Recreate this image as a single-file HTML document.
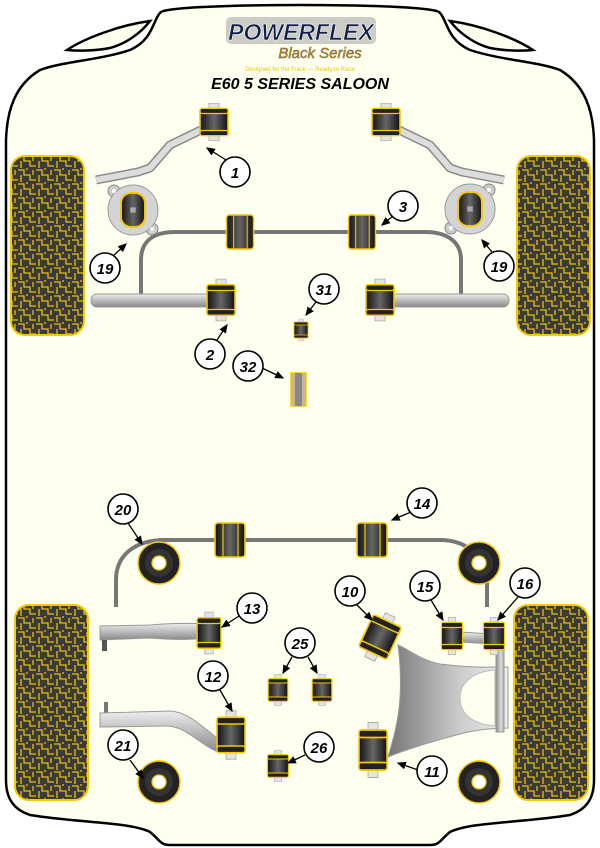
<!DOCTYPE html>
<html><head><meta charset="utf-8"><style>
html,body{margin:0;padding:0;background:#fff;}
svg{display:block;}
text{font-family:"Liberation Sans",sans-serif;}
</style></head><body>
<svg width="600" height="848" viewBox="0 0 600 848" xmlns="http://www.w3.org/2000/svg">
<defs>
<linearGradient id="dk" x1="0" x2="1" y1="0" y2="0"><stop offset="0" stop-color="#111"/><stop offset="0.5" stop-color="#666"/><stop offset="1" stop-color="#111"/></linearGradient>
<linearGradient id="gr" x1="0" x2="0" y1="0" y2="1"><stop offset="0" stop-color="#eee"/><stop offset="0.5" stop-color="#bbb"/><stop offset="1" stop-color="#888"/></linearGradient>
<linearGradient id="grh" x1="0" x2="1" y1="0" y2="0"><stop offset="0" stop-color="#888"/><stop offset="0.6" stop-color="#ddd"/><stop offset="1" stop-color="#aaa"/></linearGradient>
<linearGradient id="lg" x1="0" x2="1" y1="0" y2="0"><stop offset="0" stop-color="#777"/><stop offset="0.6" stop-color="#ccc"/><stop offset="1" stop-color="#eee"/></linearGradient>
<pattern id="tread" width="18" height="14" patternUnits="userSpaceOnUse">
<rect width="18" height="14" fill="#3a3a3a"/>
<path d="M0,2 h6 v5 h6 v5 h6 M9,0 v2 M3,7 v7 M15,2 v5" stroke="#e8c000" stroke-width="1.3" fill="none"/>
</pattern>
<marker id="ah" markerWidth="8" markerHeight="8" refX="6" refY="4" orient="auto"><path d="M0,1 L7,4 L0,7 Z" fill="#000"/></marker>
<g id="b">
<rect x="-5" y="-22" width="10" height="44" fill="#e4e4e4" stroke="#aaa" stroke-width="0.8"/>
<rect x="-14" y="-16" width="28" height="32" rx="3" fill="url(#dk)" stroke="#f5c800" stroke-width="1.6"/>
<rect x="-14" y="-16" width="28" height="6" rx="2" fill="#222" stroke="#f5c800" stroke-width="1.4"/>
<rect x="-14" y="10" width="28" height="6" rx="2" fill="#222" stroke="#f5c800" stroke-width="1.4"/>
</g>
<g id="arb">
<rect x="-15" y="-17" width="30" height="34" rx="3" fill="url(#dk)" stroke="#f5c800" stroke-width="1.6"/>
<line x1="-7" y1="-17" x2="-7" y2="17" stroke="#f5c800" stroke-width="1.2"/>
<line x1="8" y1="-17" x2="8" y2="17" stroke="#f5c800" stroke-width="1.2"/>
</g>
<g id="rnd">
<circle r="21" fill="#222" stroke="#f5c800" stroke-width="1.5"/>
<circle r="14" fill="#333"/>
<circle r="7" fill="#fff" stroke="#f5c800" stroke-width="1.3"/>
</g>
<g id="mount">
<circle cx="-19" cy="-19" r="6" fill="#ccc" stroke="#888"/>
<circle cx="19" cy="19" r="6" fill="#ccc" stroke="#888"/>
<circle r="25" fill="#d4d4d4" stroke="#999"/>
<circle cx="-19" cy="-19" r="2" fill="#fff"/>
<circle cx="19" cy="19" r="2" fill="#fff"/>
<rect x="-12" y="-17" width="24" height="34" rx="10" fill="url(#dk)" stroke="#f5c800" stroke-width="2"/>
<rect x="-3" y="-3" width="6" height="6" fill="#aaa" stroke="#555" stroke-width="0.6"/>
</g>
</defs>
<rect width="600" height="848" fill="#fff"/>
<!-- body -->
<path d="M300,5 C380,5 440,8 440,13 C447,20 447,40 470,50 C500,60 540,62 560,70 C585,85 593,110 594,140 L594,780 C594,800 585,810 570,815 C520,823 470,822 450,832 C440,840 440,845 430,845 L170,845 C160,845 160,840 150,832 C130,822 80,823 30,815 C15,810 6,800 6,780 L6,140 C7,110 15,85 40,70 C60,62 100,60 130,50 C153,40 153,20 160,13 C160,8 220,5 300,5 Z" fill="#fffff0" stroke="#000" stroke-width="2.5"/>
<path d="M67,50 C85,38 120,25 150,21 C140,34 125,44 110,48 C95,51 78,51 67,50 Z" fill="#fffff0" stroke="#000" stroke-width="2.5"/>
<path d="M533,50 C515,38 480,25 450,21 C460,34 475,44 490,48 C505,51 522,51 533,50 Z" fill="#fffff0" stroke="#000" stroke-width="2.5"/>
<!-- logo -->
<rect x="226" y="17" width="150" height="27" rx="5" fill="#999" opacity="0.5"/>
<text x="301" y="40" text-anchor="middle" font-size="23" font-weight="bold" font-style="italic" fill="#13204a" stroke="#fff" stroke-width="0.6">POWERFLEX</text>
<text x="320" y="58" text-anchor="middle" font-size="15" font-style="italic" fill="#d98a00" stroke="#555" stroke-width="0.4">Black Series</text>
<text x="300" y="71" text-anchor="middle" font-size="6" fill="#e8c800">Designed for the Track — Ready to Race</text>
<text x="300" y="89" text-anchor="middle" font-size="16" font-weight="bold" font-style="italic" fill="#000">E60 5 SERIES SALOON</text>
<!-- tires -->
<rect x="11" y="156" width="73" height="179" rx="14" fill="url(#tread)" stroke="#f5c800" stroke-width="2"/>
<rect x="517" y="156" width="73" height="179" rx="14" fill="url(#tread)" stroke="#f5c800" stroke-width="2"/>
<rect x="15" y="605" width="73" height="195" rx="14" fill="url(#tread)" stroke="#f5c800" stroke-width="2"/>
<rect x="514" y="605" width="74" height="195" rx="14" fill="url(#tread)" stroke="#f5c800" stroke-width="2"/>
<!-- front upper arms -->
<path d="M96,180 L138,172 L150,168 L170,145 L205,128" stroke="#888" stroke-width="9" fill="none" stroke-linejoin="round"/>
<path d="M96,180 L138,172 L150,168 L170,145 L205,128" stroke="#ddd" stroke-width="6" fill="none" stroke-linejoin="round"/>
<use href="#b" transform="translate(214,122) scale(1,0.85)"/>
<path d="M504,180 L462,172 L450,168 L430,145 L395,128" stroke="#888" stroke-width="9" fill="none" stroke-linejoin="round"/>
<path d="M504,180 L462,172 L450,168 L430,145 L395,128" stroke="#ddd" stroke-width="6" fill="none" stroke-linejoin="round"/>
<use href="#b" transform="translate(386,122) scale(1,0.85)"/>
<!-- strut mounts -->
<use href="#mount" transform="translate(133,210)"/>
<use href="#mount" transform="translate(470,209) scale(-1,1)"/>
<!-- front ARB -->
<path d="M141,297 L141,260 C141,240 155,232 175,232 L425,232 C445,232 461,240 461,260 L461,297" stroke="#777" stroke-width="4" fill="none"/>
<use href="#arb" transform="translate(240,232) scale(0.9,1)"/>
<use href="#arb" transform="translate(362,232) scale(0.9,1)"/>
<!-- front lower arms -->
<rect x="91" y="294" width="128" height="13" rx="6" fill="url(#gr)" stroke="#999"/>
<rect x="381" y="294" width="128" height="13" rx="6" fill="url(#gr)" stroke="#999"/>
<use href="#b" transform="translate(221,300) scale(1,0.95)"/>
<use href="#b" transform="translate(380,300) scale(1,0.95)"/>
<!-- 31, 32 -->
<use href="#b" transform="translate(301,330) scale(0.5,0.5)"/>
<rect x="291" y="373" width="15" height="33" fill="#c8b890" stroke="#f5c800" stroke-width="1.5"/>
<rect x="295" y="373" width="7" height="33" fill="#888"/>
<!-- rear ARB -->
<path d="M116,607 L116,580 C116,555 135,540 165,540 L440,540 C465,540 485,555 487,580 L487,607" stroke="#777" stroke-width="4" fill="none"/>
<use href="#arb" transform="translate(230,540)"/>
<use href="#arb" transform="translate(372,540)"/>
<use href="#rnd" transform="translate(159,563)"/>
<use href="#rnd" transform="translate(479,563)"/>
<use href="#rnd" transform="translate(159,782)"/>
<use href="#rnd" transform="translate(479,782)"/>
<!-- 13 arm -->
<path d="M100,626 L150,625 C175,623 190,623 205,624 L205,638 C190,640 175,640 150,638 L100,640 Z" fill="url(#gr)" stroke="#999"/>
<rect x="102" y="640" width="5" height="11" fill="#555"/>
<use href="#b" transform="translate(209,633) scale(0.85,0.95)"/>
<!-- 12 arm -->
<rect x="104" y="702" width="4" height="12" fill="#777"/>
<path d="M100,713 L170,711 C190,712 205,730 220,740 L218,752 C200,745 185,725 165,726 L100,727 Z" fill="url(#gr)" stroke="#999"/>
<use href="#b" transform="translate(231,735) scale(1,1.1)"/>
<!-- 25, 26 -->
<use href="#b" transform="translate(278,690) scale(0.7,0.7)"/>
<use href="#b" transform="translate(322,690) scale(0.7,0.7)"/>
<use href="#b" transform="translate(278,766) scale(0.75,0.7)"/>
<!-- wishbone -->
<path d="M398,645 C410,650 420,660 440,664 C470,668 490,667 508,667 L508,728 C490,728 475,730 460,734 C430,742 405,750 388,757 C396,730 405,700 398,645 Z" fill="url(#lg)" stroke="#999"/>
<path d="M495,670 C470,672 460,685 460,698 C460,712 470,724 495,726 Z" fill="#fffff0" stroke="#bbb"/>
<rect x="496" y="636" width="8" height="96" fill="url(#grh)" stroke="#999"/>
<path d="M460,632 L492,634 L492,644 L460,642 Z" fill="url(#gr)" stroke="#999"/>
<use href="#b" transform="translate(380,637) rotate(25) scale(1.1,1.1)"/>
<use href="#b" transform="translate(373,750) scale(1,1.25)"/>
<use href="#b" transform="translate(452,636) scale(0.75,0.85)"/>
<use href="#b" transform="translate(494,636) scale(0.75,0.85)"/>
<!-- arrows -->
<g stroke="#000" stroke-width="1.3" fill="none" marker-end="url(#ah)">
<line x1="226" y1="160" x2="207" y2="148"/>
<line x1="393" y1="216" x2="382" y2="225"/>
<line x1="113" y1="256" x2="126" y2="244"/>
<line x1="492" y1="252" x2="482" y2="240"/>
<line x1="316" y1="302" x2="306" y2="315"/>
<line x1="217" y1="340" x2="227" y2="325"/>
<line x1="262" y1="368" x2="283" y2="378"/>
<line x1="128" y1="523" x2="142" y2="544"/>
<line x1="411" y1="512" x2="392" y2="520"/>
<line x1="357" y1="605" x2="372" y2="620"/>
<line x1="431" y1="600" x2="443" y2="620"/>
<line x1="518" y1="597" x2="498" y2="620"/>
<line x1="239" y1="616" x2="222" y2="627"/>
<line x1="292" y1="657" x2="283" y2="673"/>
<line x1="308" y1="657" x2="317" y2="673"/>
<line x1="220" y1="690" x2="232" y2="711"/>
<line x1="130" y1="760" x2="143" y2="778"/>
<line x1="305" y1="755" x2="288" y2="763"/>
<line x1="418" y1="770" x2="398" y2="763"/>
</g>
<!-- number circles -->
<g fill="#fff" stroke="#000" stroke-width="1.6">
<circle cx="235" cy="172" r="15"/><circle cx="403" cy="206" r="15"/>
<circle cx="105" cy="268" r="15"/><circle cx="499" cy="266" r="15"/>
<circle cx="324" cy="289" r="15"/><circle cx="210" cy="354" r="15"/>
<circle cx="248" cy="366" r="15"/><circle cx="123" cy="509" r="15"/>
<circle cx="422" cy="503" r="15"/><circle cx="350" cy="591" r="15"/>
<circle cx="425" cy="586" r="15"/><circle cx="525" cy="583" r="15"/>
<circle cx="252" cy="608" r="15"/><circle cx="300" cy="643" r="15"/>
<circle cx="213" cy="676" r="15"/><circle cx="123" cy="745" r="15"/>
<circle cx="319" cy="747" r="15"/><circle cx="432" cy="771" r="15"/>
</g>
<g font-size="15" font-weight="bold" font-style="italic" text-anchor="middle" fill="#000">
<text x="235" y="178">1</text><text x="403" y="212">3</text>
<text x="105" y="274">19</text><text x="499" y="272">19</text>
<text x="324" y="295">31</text><text x="210" y="360">2</text>
<text x="248" y="372">32</text><text x="123" y="515">20</text>
<text x="422" y="509">14</text><text x="350" y="597">10</text>
<text x="425" y="592">15</text><text x="525" y="589">16</text>
<text x="252" y="614">13</text><text x="300" y="649">25</text>
<text x="213" y="682">12</text><text x="123" y="751">21</text>
<text x="319" y="753">26</text><text x="432" y="777">11</text>
</g>
</svg>
</body></html>
